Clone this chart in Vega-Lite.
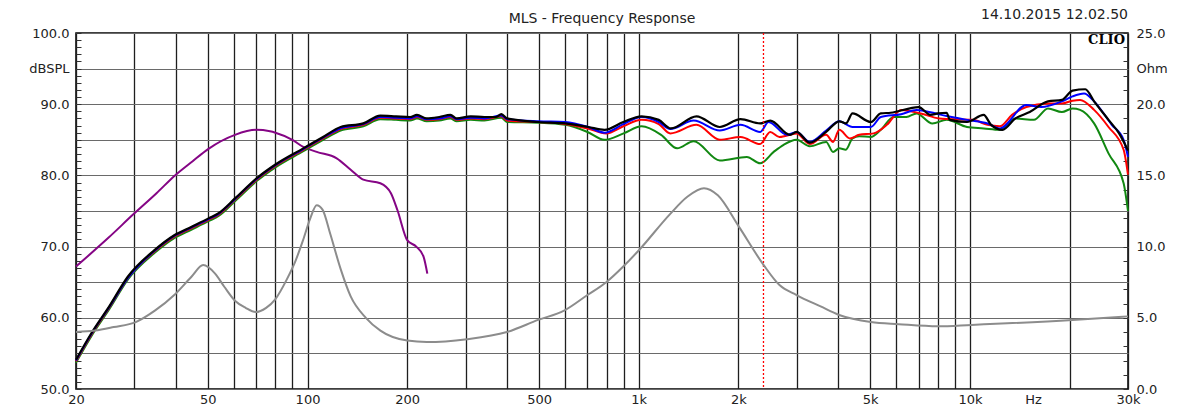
{
  "$schema": "https://vega.github.io/schema/vega-lite/v6.json",
  "width": 1052,
  "height": 356,
  "autosize": {"type": "none"},
  "padding": {"left": 76, "top": 33, "right": 58, "bottom": 16},
  "background": "white",
  "config": {
    "view": {"stroke": "#000", "strokeWidth": 1.5},
    "font": "DejaVu Sans"
  },
  "title": {"text": "MLS - Frequency Response", "anchor": "middle", "frame": "group", "font": "DejaVu Sans", "fontSize": 14, "fontWeight": "normal", "color": "#222", "baseline": "alphabetic", "offset": 0, "dy": 29},
  "datasets": {
    "black": [
      {"f": 20, "v": 54.1}, {"f": 22.3, "v": 57.9}, {"f": 25.2, "v": 61.6}, {"f": 28.7, "v": 65.8}, {"f": 34.5, "v": 69.5}, {"f": 39.6, "v": 71.6}, {"f": 44.7, "v": 72.8}, {"f": 50.4, "v": 74.0}, {"f": 53.9, "v": 74.7}, {"f": 60.5, "v": 76.8}, {"f": 70.2, "v": 79.6}, {"f": 79.8, "v": 81.5}, {"f": 97.1, "v": 83.8}, {"f": 111.4, "v": 85.4}, {"f": 125.9, "v": 86.8}, {"f": 147.4, "v": 87.3}, {"f": 165.9, "v": 88.4}, {"f": 185, "v": 88.3}, {"f": 204, "v": 88.2}, {"f": 214, "v": 88.5}, {"f": 229, "v": 88.0}, {"f": 250, "v": 88.2}, {"f": 270, "v": 88.5}, {"f": 282, "v": 88.0}, {"f": 311, "v": 88.3}, {"f": 342, "v": 88.2}, {"f": 370, "v": 88.2}, {"f": 385, "v": 88.6}, {"f": 400, "v": 88.0}, {"f": 497, "v": 87.5}, {"f": 600, "v": 87.3}, {"f": 704, "v": 86.8}, {"f": 788, "v": 86.4}, {"f": 898, "v": 87.5}, {"f": 1020, "v": 88.3}, {"f": 1149, "v": 87.8}, {"f": 1250, "v": 86.6}, {"f": 1494, "v": 88.3}, {"f": 1757, "v": 86.8}, {"f": 2029, "v": 87.9}, {"f": 2326, "v": 87.3}, {"f": 2494, "v": 87.7}, {"f": 2862, "v": 85.7}, {"f": 2996, "v": 86.1}, {"f": 3283, "v": 84.6}, {"f": 3680, "v": 86.1}, {"f": 4032, "v": 87.6}, {"f": 4220, "v": 87.3}, {"f": 4420, "v": 88.7}, {"f": 5020, "v": 87.5}, {"f": 5380, "v": 88.7}, {"f": 5760, "v": 88.8}, {"f": 7000, "v": 89.6}, {"f": 7600, "v": 88.5}, {"f": 8000, "v": 88.7}, {"f": 8500, "v": 88.8}, {"f": 8700, "v": 87.8}, {"f": 9800, "v": 87.5}, {"f": 11000, "v": 88.5}, {"f": 11580, "v": 87.1}, {"f": 12530, "v": 86.4}, {"f": 13720, "v": 88.0}, {"f": 15150, "v": 88.9}, {"f": 17200, "v": 90.4}, {"f": 18950, "v": 90.6}, {"f": 20400, "v": 91.9}, {"f": 22300, "v": 92.1}, {"f": 23700, "v": 90.4}, {"f": 26200, "v": 87.8}, {"f": 28200, "v": 85.9}, {"f": 30000, "v": 83.5}
    ],
    "blue": [
      {"f": 20, "v": 54.0}, {"f": 22.3, "v": 57.8}, {"f": 25.2, "v": 61.5}, {"f": 28.7, "v": 65.6}, {"f": 34.5, "v": 69.4}, {"f": 39.6, "v": 71.5}, {"f": 44.7, "v": 72.7}, {"f": 50.4, "v": 73.9}, {"f": 53.9, "v": 74.6}, {"f": 60.5, "v": 76.7}, {"f": 70.2, "v": 79.5}, {"f": 79.8, "v": 81.4}, {"f": 97.1, "v": 83.7}, {"f": 111.4, "v": 85.3}, {"f": 125.9, "v": 86.6}, {"f": 147.4, "v": 87.2}, {"f": 165.9, "v": 88.2}, {"f": 185, "v": 88.1}, {"f": 204, "v": 88.0}, {"f": 214, "v": 88.3}, {"f": 229, "v": 87.9}, {"f": 250, "v": 88.0}, {"f": 270, "v": 88.3}, {"f": 282, "v": 87.9}, {"f": 311, "v": 88.1}, {"f": 342, "v": 88.0}, {"f": 385, "v": 88.4}, {"f": 400, "v": 87.9}, {"f": 497, "v": 87.6}, {"f": 600, "v": 87.5}, {"f": 704, "v": 86.8}, {"f": 788, "v": 86.0}, {"f": 898, "v": 87.2}, {"f": 1020, "v": 88.2}, {"f": 1149, "v": 87.5}, {"f": 1245, "v": 86.5}, {"f": 1465, "v": 87.7}, {"f": 1757, "v": 86.3}, {"f": 2029, "v": 87.1}, {"f": 2326, "v": 86.1}, {"f": 2466, "v": 87.5}, {"f": 2800, "v": 85.7}, {"f": 2996, "v": 86.1}, {"f": 3283, "v": 84.7}, {"f": 3680, "v": 86.3}, {"f": 4032, "v": 87.6}, {"f": 4420, "v": 86.8}, {"f": 5020, "v": 86.8}, {"f": 5380, "v": 88.2}, {"f": 6200, "v": 88.6}, {"f": 6900, "v": 89.2}, {"f": 8200, "v": 88.5}, {"f": 9800, "v": 87.8}, {"f": 11300, "v": 87.3}, {"f": 12300, "v": 86.6}, {"f": 14800, "v": 89.9}, {"f": 16400, "v": 89.6}, {"f": 18950, "v": 90.4}, {"f": 20400, "v": 91.1}, {"f": 22100, "v": 91.5}, {"f": 23700, "v": 90.4}, {"f": 26800, "v": 87.1}, {"f": 29100, "v": 85.0}, {"f": 30000, "v": 82.6}
    ],
    "red": [
      {"f": 20, "v": 53.9}, {"f": 22.3, "v": 57.7}, {"f": 25.2, "v": 61.4}, {"f": 28.7, "v": 65.6}, {"f": 34.5, "v": 69.3}, {"f": 39.6, "v": 71.4}, {"f": 44.7, "v": 72.6}, {"f": 50.4, "v": 73.8}, {"f": 53.9, "v": 74.5}, {"f": 60.5, "v": 76.6}, {"f": 70.2, "v": 79.4}, {"f": 79.8, "v": 81.3}, {"f": 97.1, "v": 83.6}, {"f": 111.4, "v": 85.2}, {"f": 125.9, "v": 86.5}, {"f": 147.4, "v": 87.1}, {"f": 165.9, "v": 88.1}, {"f": 185, "v": 88.0}, {"f": 204, "v": 87.9}, {"f": 214, "v": 88.2}, {"f": 229, "v": 87.8}, {"f": 250, "v": 87.9}, {"f": 270, "v": 88.2}, {"f": 282, "v": 87.8}, {"f": 311, "v": 88.0}, {"f": 342, "v": 87.9}, {"f": 385, "v": 88.3}, {"f": 400, "v": 87.7}, {"f": 497, "v": 87.5}, {"f": 583, "v": 87.3}, {"f": 700, "v": 86.6}, {"f": 798, "v": 85.9}, {"f": 898, "v": 86.9}, {"f": 1020, "v": 87.8}, {"f": 1149, "v": 87.2}, {"f": 1245, "v": 85.9}, {"f": 1494, "v": 87.1}, {"f": 1757, "v": 85.0}, {"f": 2029, "v": 85.4}, {"f": 2326, "v": 84.4}, {"f": 2494, "v": 86.1}, {"f": 2660, "v": 85.4}, {"f": 2996, "v": 85.9}, {"f": 3283, "v": 84.4}, {"f": 3680, "v": 85.7}, {"f": 3860, "v": 84.7}, {"f": 4032, "v": 86.4}, {"f": 4340, "v": 85.2}, {"f": 4630, "v": 85.7}, {"f": 5120, "v": 85.9}, {"f": 5610, "v": 87.1}, {"f": 6200, "v": 89.2}, {"f": 7100, "v": 88.7}, {"f": 8080, "v": 88.0}, {"f": 10200, "v": 87.8}, {"f": 11300, "v": 87.1}, {"f": 12300, "v": 86.9}, {"f": 13400, "v": 88.5}, {"f": 14800, "v": 89.6}, {"f": 17200, "v": 90.1}, {"f": 18950, "v": 90.1}, {"f": 20400, "v": 90.5}, {"f": 21500, "v": 90.6}, {"f": 23700, "v": 89.2}, {"f": 26200, "v": 86.8}, {"f": 29100, "v": 83.6}, {"f": 30000, "v": 80.1}
    ],
    "green": [
      {"f": 20, "v": 53.7}, {"f": 22.3, "v": 57.5}, {"f": 25.2, "v": 61.2}, {"f": 28.7, "v": 65.4}, {"f": 34.5, "v": 69.1}, {"f": 39.6, "v": 71.2}, {"f": 44.7, "v": 72.4}, {"f": 50.4, "v": 73.6}, {"f": 53.9, "v": 74.3}, {"f": 60.5, "v": 76.4}, {"f": 70.2, "v": 79.2}, {"f": 79.8, "v": 81.1}, {"f": 97.1, "v": 83.4}, {"f": 111.4, "v": 85.0}, {"f": 125.9, "v": 86.3}, {"f": 147.4, "v": 86.9}, {"f": 165.9, "v": 87.9}, {"f": 185, "v": 87.8}, {"f": 204, "v": 87.7}, {"f": 214, "v": 88.0}, {"f": 229, "v": 87.6}, {"f": 250, "v": 87.7}, {"f": 270, "v": 88.0}, {"f": 282, "v": 87.6}, {"f": 311, "v": 87.8}, {"f": 342, "v": 87.7}, {"f": 385, "v": 88.1}, {"f": 400, "v": 87.5}, {"f": 497, "v": 87.4}, {"f": 600, "v": 87.1}, {"f": 700, "v": 86.1}, {"f": 788, "v": 85.0}, {"f": 900, "v": 85.9}, {"f": 1020, "v": 86.9}, {"f": 1168, "v": 85.7}, {"f": 1306, "v": 83.8}, {"f": 1465, "v": 84.8}, {"f": 1757, "v": 82.1}, {"f": 2120, "v": 82.6}, {"f": 2326, "v": 81.7}, {"f": 2555, "v": 83.3}, {"f": 2738, "v": 84.3}, {"f": 2996, "v": 85.0}, {"f": 3283, "v": 84.1}, {"f": 3680, "v": 84.7}, {"f": 3860, "v": 83.3}, {"f": 4032, "v": 83.8}, {"f": 4220, "v": 83.6}, {"f": 4420, "v": 85.2}, {"f": 4630, "v": 85.5}, {"f": 5020, "v": 85.4}, {"f": 5380, "v": 86.4}, {"f": 5880, "v": 88.2}, {"f": 6430, "v": 88.2}, {"f": 6900, "v": 88.7}, {"f": 7700, "v": 87.3}, {"f": 8500, "v": 87.8}, {"f": 9800, "v": 86.8}, {"f": 11000, "v": 86.6}, {"f": 12300, "v": 86.4}, {"f": 13720, "v": 88.0}, {"f": 15600, "v": 87.8}, {"f": 17200, "v": 89.4}, {"f": 18950, "v": 88.9}, {"f": 20400, "v": 89.4}, {"f": 21500, "v": 89.2}, {"f": 23700, "v": 87.3}, {"f": 26200, "v": 83.1}, {"f": 29100, "v": 78.9}, {"f": 30000, "v": 75.0}
    ],
    "purple": [
      {"f": 20, "v": 67.2}, {"f": 25, "v": 71.2}, {"f": 29.9, "v": 74.6}, {"f": 35, "v": 77.5}, {"f": 39.8, "v": 80.0}, {"f": 45, "v": 82.0}, {"f": 50.1, "v": 83.7}, {"f": 60.4, "v": 85.7}, {"f": 70, "v": 86.4}, {"f": 77, "v": 86.2}, {"f": 80, "v": 86.0}, {"f": 90, "v": 85.0}, {"f": 97.1, "v": 84.0}, {"f": 106.6, "v": 83.3}, {"f": 122.5, "v": 82.4}, {"f": 135, "v": 80.8}, {"f": 147.4, "v": 79.4}, {"f": 165.9, "v": 78.9}, {"f": 178.6, "v": 77.5}, {"f": 186.9, "v": 75.1}, {"f": 200, "v": 70.9}, {"f": 213, "v": 70.0}, {"f": 224, "v": 68.6}, {"f": 230, "v": 66.2}
    ],
    "impedance": [
      {"f": 20, "v": 4.0}, {"f": 22.8, "v": 4.1}, {"f": 26, "v": 4.35}, {"f": 30.3, "v": 4.7}, {"f": 34.6, "v": 5.5}, {"f": 39.6, "v": 6.6}, {"f": 44.7, "v": 7.9}, {"f": 48.4, "v": 8.7}, {"f": 52.6, "v": 8.1}, {"f": 56, "v": 7.2}, {"f": 60.4, "v": 6.2}, {"f": 65, "v": 5.7}, {"f": 69.7, "v": 5.4}, {"f": 75, "v": 5.7}, {"f": 79.9, "v": 6.3}, {"f": 86.6, "v": 7.7}, {"f": 92, "v": 9.0}, {"f": 97.1, "v": 10.5}, {"f": 102, "v": 12.0}, {"f": 106.6, "v": 12.9}, {"f": 111, "v": 12.6}, {"f": 117.1, "v": 10.9}, {"f": 126, "v": 8.4}, {"f": 135, "v": 6.5}, {"f": 150, "v": 5.0}, {"f": 166, "v": 4.1}, {"f": 200, "v": 3.4}, {"f": 229, "v": 3.3}, {"f": 303, "v": 3.5}, {"f": 400, "v": 4.0}, {"f": 497, "v": 4.85}, {"f": 595, "v": 5.5}, {"f": 700, "v": 6.6}, {"f": 798, "v": 7.5}, {"f": 898, "v": 8.6}, {"f": 1006, "v": 9.8}, {"f": 1245, "v": 12.3}, {"f": 1402, "v": 13.5}, {"f": 1574, "v": 14.1}, {"f": 1733, "v": 13.6}, {"f": 2006, "v": 11.4}, {"f": 2384, "v": 8.7}, {"f": 2660, "v": 7.3}, {"f": 2996, "v": 6.6}, {"f": 3540, "v": 5.8}, {"f": 4030, "v": 5.2}, {"f": 5020, "v": 4.7}, {"f": 6100, "v": 4.55}, {"f": 8000, "v": 4.4}, {"f": 10100, "v": 4.5}, {"f": 20400, "v": 4.85}, {"f": 30000, "v": 5.1}
    ]
  },
  "layer": [
    {
      "layer": [
        {
          "data": {"name": "purple"},
          "mark": {"type": "line", "color": "#850585", "strokeWidth": 2, "interpolate": "monotone"},
          "encoding": {
            "x": {
              "field": "f", "type": "quantitative",
              "scale": {"type": "log", "domain": [20, 30000], "nice": false},
              "axis": {
                "title": null,
                "tickCount": 200,
                "values": [20, 30, 40, 50, 60, 70, 80, 90, 100, 200, 300, 400, 500, 600, 700, 800, 900, 1000, 2000, 3000, 4000, 5000, 6000, 7000, 8000, 9000, 10000, 15500, 20000, 30000],
                "labelExpr": "datum.value == 15500 ? 'Hz' : (indexof([20, 50, 100, 200, 500], datum.value) >= 0 ? '' + datum.value : (indexof([1000, 2000, 5000, 10000, 30000], datum.value) >= 0 ? (datum.value / 1000) + 'k' : ''))",
                "labelFlush": false,
                "labelOverlap": false,
                "labelFont": "DejaVu Sans",
                "labelFontSize": 13,
                "labelColor": "#222",
                "labelPadding": 4,
                "ticks": false,
                "domain": false,
                "grid": true,
                "gridColor": {"condition": {"test": "datum.value == 15500", "value": "transparent"}, "value": "#1e1e1e"},
                "gridWidth": 1.3,
                "gridOpacity": 1
              }
            },
            "y": {
              "field": "v", "type": "quantitative",
              "scale": {"domain": [50, 100], "nice": false, "zero": false},
              "axis": {
                "title": null,
                "tickCount": 200,
                "values": [50, 51, 52, 53, 54, 55, 56, 57, 58, 59, 60, 61, 62, 63, 64, 65, 66, 67, 68, 69, 70, 71, 72, 73, 74, 75, 76, 77, 78, 79, 80, 81, 82, 83, 84, 85, 86, 87, 88, 89, 90, 91, 92, 93, 94, 95, 96, 97, 98, 99, 100],
                "labelExpr": "datum.value == 95 ? 'dBSPL' : (datum.value % 10 == 0 ? format(datum.value, '.1f') : '')",
                "labelOverlap": false,
                "labelFont": "DejaVu Sans",
                "labelFontSize": 13,
                "labelColor": "#222",
                "labelPadding": 12,
                "ticks": true,
                "tickSize": -5,
                "tickColor": "#333",
                "tickWidth": 1,
                "domain": false,
                "grid": true,
                "gridColor": {"condition": {"test": "datum.value % 5 == 0", "value": "#6a6a6a"}, "value": "transparent"},
                "gridWidth": 1.2,
                "gridOpacity": 1
              }
            }
          }
        },
        {
          "data": {"name": "green"},
          "mark": {"type": "line", "color": "#118811", "strokeWidth": 2, "interpolate": "monotone"},
          "encoding": {"x": {"field": "f", "type": "quantitative"}, "y": {"field": "v", "type": "quantitative"}}
        },
        {
          "data": {"name": "red"},
          "mark": {"type": "line", "color": "#ff0000", "strokeWidth": 2, "interpolate": "monotone"},
          "encoding": {"x": {"field": "f", "type": "quantitative"}, "y": {"field": "v", "type": "quantitative"}}
        },
        {
          "data": {"name": "blue"},
          "mark": {"type": "line", "color": "#0000ff", "strokeWidth": 2, "interpolate": "monotone"},
          "encoding": {"x": {"field": "f", "type": "quantitative"}, "y": {"field": "v", "type": "quantitative"}}
        },
        {
          "data": {"name": "black"},
          "mark": {"type": "line", "color": "#000000", "strokeWidth": 2.2, "interpolate": "monotone"},
          "encoding": {"x": {"field": "f", "type": "quantitative"}, "y": {"field": "v", "type": "quantitative"}}
        },
        {
          "data": {"values": [{}]},
          "mark": {"type": "rule", "color": "#ff0000", "strokeDash": [2, 2], "strokeWidth": 1.3},
          "encoding": {"x": {"datum": 2380, "type": "quantitative"}}
        },
        {
          "data": {"values": [{}]},
          "mark": {"type": "text", "text": "CLIO", "font": "DejaVu Serif", "fontWeight": "bold", "fontSize": 13, "align": "right", "baseline": "top", "dx": -3, "dy": 1, "color": "#000"},
          "encoding": {"x": {"datum": 30000, "type": "quantitative"}, "y": {"datum": 100, "type": "quantitative"}}
        },
        {
          "data": {"values": [{}]},
          "mark": {"type": "text", "text": "14.10.2015 12.02.50", "font": "DejaVu Sans", "fontSize": 14, "align": "right", "baseline": "alphabetic", "dy": -14, "color": "#222"},
          "encoding": {"x": {"datum": 30000, "type": "quantitative"}, "y": {"datum": 100, "type": "quantitative"}}
        }
      ]
    },
    {
      "data": {"name": "impedance"},
      "mark": {"type": "line", "color": "#8c8c8c", "strokeWidth": 2, "interpolate": "monotone"},
      "encoding": {
        "x": {"field": "f", "type": "quantitative"},
        "y": {
          "field": "v", "type": "quantitative",
          "scale": {"domain": [0, 25], "nice": false, "zero": false},
          "axis": {
            "orient": "right",
            "title": null,
            "tickCount": 200,
            "values": [0, 1, 2, 3, 4, 5, 6, 7, 8, 9, 10, 11, 12, 13, 14, 15, 16, 17, 18, 19, 20, 21, 22, 22.5, 23, 24, 25],
            "labelExpr": "datum.value == 22.5 ? 'Ohm' : (datum.value % 5 == 0 ? format(datum.value, '.1f') : '')",
            "labelOverlap": false,
            "labelFont": "DejaVu Sans",
            "labelFontSize": 13,
            "labelColor": "#222",
            "labelPadding": 13,
            "ticks": true,
            "tickSize": -5,
            "tickColor": "#333",
            "tickOpacity": {"condition": {"test": "datum.value == 22.5", "value": 0}, "value": 1},
            "domain": false,
            "grid": false
          }
        }
      }
    }
  ],
  "resolve": {"scale": {"y": "independent"}}
}
